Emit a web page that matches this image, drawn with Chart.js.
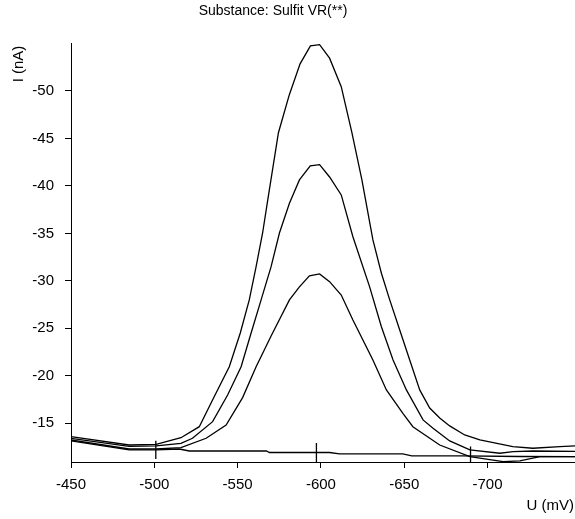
<!DOCTYPE html>
<html>
<head>
<meta charset="utf-8">
<script src="https://cdn.jsdelivr.net/npm/chart.js@4.4.0/dist/chart.umd.min.js"></script>
<style>
  html, body { margin: 0; padding: 0; background: #fff; }
</style>
</head>
<body>
<canvas id="chart" width="575" height="519"></canvas>
<script>
// voltammogram data, U in mV, I in nA
var uA = [-450, -484.9, -501.1, -516.0, -527.0, -535.4, -545.0, -551.6, -557.0, -561.1, -565.0, -568.1, -574.5, -581.0, -587.5, -593.7, -599.2, -605.2, -612.2, -618.5, -624.6, -631.2, -636.3, -641.3, -647.3, -653.3, -659.3, -665.3, -671.3, -677.3, -686.3, -695.4, -715.2, -727.2, -743.5, -752.5];
var iA = [-13.59, -12.71, -12.77, -13.48, -14.64, -17.6, -20.96, -24.51, -27.99, -31.49, -35.04, -38.52, -45.6, -49.58, -52.85, -54.74, -54.88, -53.45, -50.45, -45.68, -40.63, -34.31, -30.80, -27.99, -24.83, -21.67, -18.51, -16.6, -15.56, -14.72, -13.77, -13.24, -12.54, -12.37, -12.54, -12.61];

var uB = [-450, -484.9, -501.1, -516.0, -522.9, -535.0, -544.0, -552.1, -558.1, -564.1, -570.1, -575.1, -581.1, -587.1, -593.6, -599.2, -605.2, -612.2, -619.2, -629.2, -636.3, -643.3, -651.3, -661.3, -667.3, -677.3, -689.4, -707.4, -715.4, -727.4, -752.5];
var iB = [-13.40, -12.56, -12.61, -12.89, -13.42, -15.17, -17.98, -20.96, -24.51, -27.99, -31.49, -35.04, -38.17, -40.63, -42.10, -42.24, -40.94, -39.05, -34.65, -29.39, -25.17, -21.67, -18.51, -15.35, -14.47, -13.14, -12.19, -11.84, -12.01, -12.08, -12.03];

var uC = [-450, -484.9, -501.1, -516.0, -531.1, -543.1, -553.0, -561.1, -570.1, -581.1, -587.1, -593.1, -599.2, -605.2, -612.2, -619.2, -631.2, -639.3, -649.2, -655.2, -671.3, -689.4, -709.4, -719.4, -731.5, -752.5];
var iC = [-13.24, -12.29, -12.29, -12.43, -13.42, -14.82, -17.7, -20.96, -24.2, -27.99, -29.36, -30.52, -30.73, -29.91, -28.51, -25.88, -21.67, -18.51, -16.05, -14.64, -12.71, -11.48, -10.96, -11.03, -11.48, -11.48];

var uD = [-450, -484.9, -501.1, -515.0, -521.0, -567.3, -569.1, -605.2, -611.2, -649.1, -654.5, -684.5, -719.4, -752.5];
var iD = [-13.14, -12.19, -12.19, -12.29, -12.08, -12.08, -11.92, -11.92, -11.77, -11.77, -11.56, -11.56, -11.50, -11.48];

// cursor marks
var markU = [-500.9, -597.3, -689.8];
var markTop = [-13.17, -12.93, -12.54];
var markBottom = [-11.24, -10.92, -10.92];

var xTicks = [-450, -500, -550, -600, -650, -700];
var yTicks = [-50, -45, -40, -35, -30, -25, -20, -15];

var titleText = 'Substance: Sulfit VR(**)';
var xTitle = 'U (mV)';
var yTitle = 'I (nA)';

var fontFamily = '"Liberation Sans", Arial, sans-serif';

function pts(u, i) {
    return u.map(function (v, k) { return { x: v, y: i[k] }; });
}

function curve(u, i) {
    return {
        data: pts(u, i),
        borderColor: '#000',
        borderWidth: 1.3,
        pointRadius: 0,
        tension: 0,
        fill: false
    };
}

var datasets = [curve(uA, iA), curve(uB, iB), curve(uC, iC), curve(uD, iD)];
markU.forEach(function (u, k) {
    datasets.push({
        data: [{ x: u, y: markTop[k] }, { x: u, y: markBottom[k] }],
        borderColor: '#000',
        borderWidth: 1.3,
        pointRadius: 0,
        fill: false
    });
});

var axisText = {
    id: 'axisText',
    afterDraw: function (chart) {
        var c = chart.ctx;
        c.save();
        c.fillStyle = '#000';
        c.font = '14px ' + fontFamily;
        c.textAlign = 'center';
        c.textBaseline = 'middle';
        c.fillText(titleText, 273, 11);
        c.font = '15px ' + fontFamily;
        c.textAlign = 'right';
        c.fillText(xTitle, 574, 506);
        c.translate(19, 64);
        c.rotate(-Math.PI / 2);
        c.textAlign = 'center';
        c.fillText(yTitle, 0, 0);
        c.restore();
    }
};

var ctx = document.getElementById('chart').getContext('2d');
new Chart(ctx, {
    type: 'line',
    data: { datasets: datasets },
    options: {
        responsive: false,
        animation: false,
        layout: { padding: { top: 43, left: 0, right: 0, bottom: 0 } },
        plugins: {
            legend: { display: false },
            tooltip: { enabled: false },
            title: { display: false }
        },
        scales: {
            x: {
                type: 'linear',
                reverse: true,
                min: -752.5,
                max: -450,
                afterBuildTicks: function (s) { s.ticks = xTicks.map(function (v) { return { value: v }; }); },
                afterFit: function (s) { s.height = 57; },
                grid: { drawOnChartArea: false, drawTicks: true, tickLength: 6, color: '#000' },
                border: { color: '#000', width: 1 },
                ticks: { color: '#000', font: { family: fontFamily, size: 15 }, padding: 8, maxRotation: 0, autoSkip: false }
            },
            y: {
                type: 'linear',
                reverse: true,
                min: -55.05,
                max: -10.92,
                afterBuildTicks: function (s) { s.ticks = yTicks.map(function (v) { return { value: v }; }); },
                afterFit: function (s) { s.width = 71; },
                grid: { drawOnChartArea: false, drawTicks: true, tickLength: 6, color: '#000' },
                border: { color: '#000', width: 1 },
                ticks: { color: '#000', font: { family: fontFamily, size: 15 }, padding: 11, autoSkip: false }
            }
        }
    },
    plugins: [axisText]
});
</script>
</body>
</html>
